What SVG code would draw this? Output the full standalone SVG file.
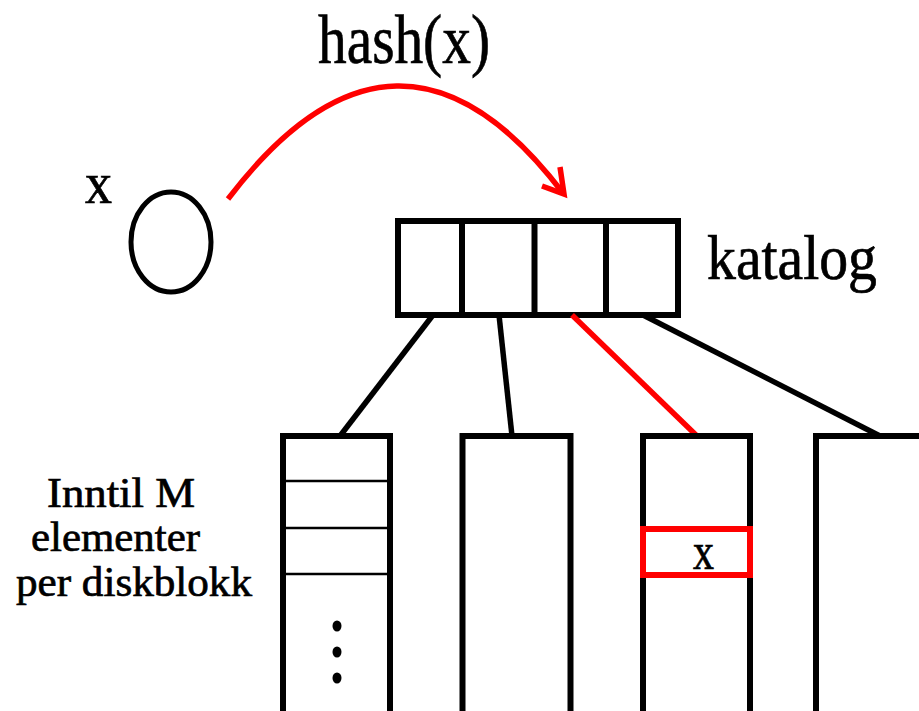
<svg xmlns="http://www.w3.org/2000/svg" width="919" height="711" viewBox="0 0 919 711">
  <style>
    .lbl { font-family: "Liberation Serif", "Times New Roman", serif; fill: #000; stroke: #000; stroke-width: 0.7; }
    .box { fill: none; stroke: #000; stroke-width: 6; }
    .slot { fill: none; stroke: #000; stroke-width: 2.5; }
    .link { fill: none; stroke: #000; stroke-width: 5.5; }
    .hot { stroke: #ff0000; }
  </style>
  <rect width="919" height="711" fill="#fff"/>

  <!-- element x -->
  <g id="element">
    <ellipse cx="171" cy="242" rx="40" ry="50" fill="none" stroke="#000" stroke-width="5"/>
    <text class="lbl" x="85" y="203" font-size="60" textLength="27" lengthAdjust="spacingAndGlyphs">x</text>
  </g>

  <!-- hash function arrow -->
  <g id="hash">
    <text class="lbl" x="318" y="63" font-size="70" textLength="172" lengthAdjust="spacingAndGlyphs">hash(x)</text>
    <path d="M228,199 Q398,-24 563,193" fill="none" stroke="#ff0000" stroke-width="5.5"/>
    <path d="M542,186 L564,194 L560,167" fill="none" stroke="#ff0000" stroke-width="5.5"/>
  </g>

  <!-- directory -->
  <g id="katalog">
    <rect class="box" x="398" y="221" width="280" height="94"/>
    <line class="box" x1="462" y1="221" x2="462" y2="315"/>
    <line class="box" x1="534.5" y1="221" x2="534.5" y2="315"/>
    <line class="box" x1="606" y1="221" x2="606" y2="315"/>
    <text class="lbl" x="707" y="279" font-size="64" textLength="170" lengthAdjust="spacingAndGlyphs">katalog</text>
  </g>

  <!-- directory to block pointers -->
  <g id="connectors">
    <line class="link" x1="433" y1="315" x2="340" y2="436"/>
    <line class="link" x1="499" y1="315" x2="512" y2="436"/>
    <line class="link hot" x1="572" y1="315" x2="697" y2="436"/>
    <line class="link" x1="643" y1="315" x2="880" y2="436"/>
  </g>

  <!-- disk blocks -->
  <g id="block1">
    <path class="box" d="M283,714 V436 H390 V714"/>
    <line class="slot" x1="283" y1="481" x2="390" y2="481"/>
    <line class="slot" x1="283" y1="528" x2="390" y2="528"/>
    <line class="slot" x1="283" y1="574" x2="390" y2="574"/>
    <ellipse cx="337" cy="626" rx="4.5" ry="5.5"/>
    <ellipse cx="337" cy="652" rx="4.5" ry="5.5"/>
    <ellipse cx="337" cy="678" rx="4.5" ry="5.5"/>
  </g>
  <g id="block2">
    <path class="box" d="M462.5,714 V436 H570.5 V714"/>
  </g>
  <g id="block3">
    <path class="box" d="M643,714 V436 H750 V714"/>
    <rect class="box hot" x="643" y="529" width="107" height="46" fill="#fff"/>
    <text class="lbl" x="693" y="569" font-size="52" textLength="21" lengthAdjust="spacingAndGlyphs">x</text>
  </g>
  <g id="block4">
    <path class="box" d="M816,714 V436 H925"/>
  </g>

  <!-- block capacity note -->
  <g id="note">
    <text class="lbl" x="47" y="507" font-size="42" textLength="148" lengthAdjust="spacingAndGlyphs">Inntil M</text>
    <text class="lbl" x="31" y="551" font-size="42" textLength="169" lengthAdjust="spacingAndGlyphs">elementer</text>
    <text class="lbl" x="16" y="596" font-size="42" textLength="236" lengthAdjust="spacingAndGlyphs">per diskblokk</text>
  </g>
</svg>
